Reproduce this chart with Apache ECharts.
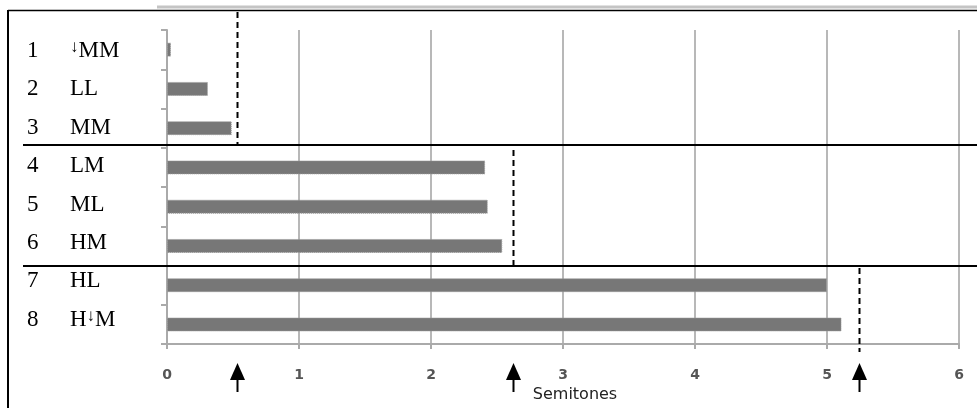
<!DOCTYPE html>
<html>
<head>
<meta charset="utf-8">
<script src="https://cdn.jsdelivr.net/npm/echarts@6/dist/echarts.min.js"></script>
<style>
  html, body { margin: 0; padding: 0; background: #fff; }
  #chart { width: 977px; height: 408px; }
</style>
</head>
<body>
<div id="chart"></div>
<script>
// Pitch contour categories, numbered rows, and mean shift in semitones
const rowNumbers = ['1', '2', '3', '4', '5', '6', '7', '8'];
const contours = ['↓MM', 'LL', 'MM', 'LM', 'ML', 'HM', 'HL', 'H↓M'];
const semitones = [0.03, 0.31, 0.49, 2.41, 2.43, 2.54, 5.00, 5.11];
// Group boundaries (dashed lines + arrows), one per group of rows
const thresholds = [0.53, 2.62, 5.24];
const xTicks = [0, 1, 2, 3, 4, 5, 6];

const chart = echarts.init(document.getElementById('chart'), null, { renderer: 'canvas' });

const option = {
  animation: false,
  backgroundColor: '#fff',
  grid: { left: 167, right: 18, top: 30, bottom: 60 },
  xAxis: {
    type: 'value',
    min: xTicks[0],
    max: xTicks[xTicks.length - 1],
    interval: 1,
    name: 'Semitones',
    nameLocation: 'middle',
    nameGap: 42,
    nameTextStyle: { fontFamily: 'DejaVu Sans', fontSize: 16, color: '#222', padding: [0, 0, 0, 24] },
    axisLine: { show: true, lineStyle: { color: '#aaa', width: 2 } },
    axisTick: { show: true, length: 5, lineStyle: { color: '#aaa', width: 2 } },
    axisLabel: { fontFamily: 'DejaVu Sans', fontSize: 14, fontWeight: 'bold', color: '#555', margin: 24 },
    splitLine: { show: true, lineStyle: { color: '#b8b8b8', width: 2 } }
  },
  yAxis: {
    type: 'category',
    data: contours,
    inverse: true,
    axisLine: { show: true, lineStyle: { color: '#aaa', width: 2 } },
    axisTick: { show: true, length: 6, lineStyle: { color: '#aaa', width: 2 } },
    axisLabel: { show: false },
    splitLine: { show: false }
  },
  series: [{
    type: 'bar',
    data: semitones,
    barWidth: 14,
    itemStyle: { color: '#777', borderColor: '#999', borderWidth: 1, borderType: 'dotted' }
  }]
};
chart.setOption(option);

const px = v => chart.convertToPixel({ xAxisIndex: 0 }, v);

const g = [];
// frame: left border, top border and its grey shadow
g.push({ type: 'line', shape: { x1: 8, y1: 10, x2: 8, y2: 408 }, style: { stroke: '#000', lineWidth: 2 } });
g.push({ type: 'line', shape: { x1: 157, y1: 7, x2: 977, y2: 7 }, style: { stroke: '#c4c4c4', lineWidth: 3 } });
g.push({ type: 'line', shape: { x1: 8, y1: 10.5, x2: 977, y2: 10.5 }, style: { stroke: '#000', lineWidth: 1.5 } });
// group separators
[145, 266].forEach(y => {
  g.push({ type: 'line', shape: { x1: 23, y1: y, x2: 977, y2: y }, style: { stroke: '#000', lineWidth: 2 } });
});

// row table: number and contour name (raised arrow as a superscript)
const rich = {
  s: { fontFamily: 'Liberation Serif', fontSize: 17, lineHeight: 17, verticalAlign: 'top', padding: [0, 0, 13, 0], fill: '#000' },
  t: { fontFamily: 'Liberation Serif', fontSize: 23, fill: '#000' }
};
const fmt = s => s.split('↓').map((p, i) => (i > 0 ? '{s|↓}' : '') + (p ? '{t|' + p + '}' : '')).join('');
rowNumbers.forEach((n, i) => {
  const y = 51 + 38.4 * i;
  g.push({ type: 'text', x: 27, y: y, style: { text: n, fontFamily: 'Liberation Serif', fontSize: 23, fill: '#000', verticalAlign: 'middle' } });
  g.push({ type: 'text', x: 70, y: y, style: { text: fmt(contours[i]), rich: rich, verticalAlign: 'middle' } });
});

// dashed group boundaries and arrows under the axis
const spans = [[12, 145], [150, 266], [268, 352]];
thresholds.forEach((t, i) => {
  const x = Math.round(px(t)) + 0.5;
  g.push({ type: 'line', shape: { x1: x, y1: spans[i][0], x2: x, y2: spans[i][1] },
           style: { stroke: '#000', lineWidth: 2, lineDash: [6, 4] } });
  g.push({ type: 'line', shape: { x1: x, y1: 376, x2: x, y2: 392 }, style: { stroke: '#000', lineWidth: 2 } });
  g.push({ type: 'polygon', shape: { points: [[x, 363], [x - 7.5, 380], [x + 7.5, 380]] }, style: { fill: '#000' } });
});

g.forEach(el => { el.z = 100; });
chart.setOption({ graphic: g });
</script>
</body>
</html>
